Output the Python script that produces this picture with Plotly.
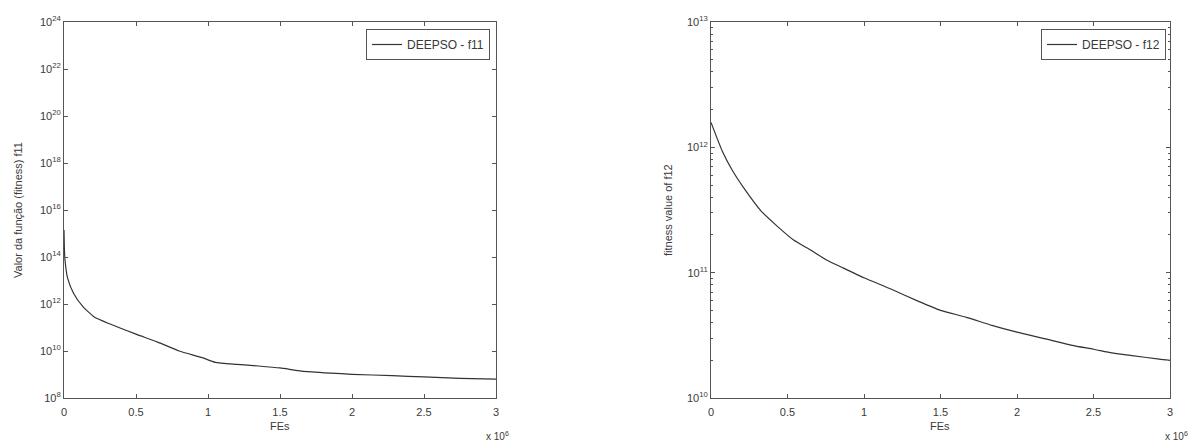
import plotly.graph_objects as go

# ---- data (FEs in units of 10^6) ----
fes_f11 = [0, 0.003, 0.008, 0.025, 0.067, 0.13, 0.21, 0.32, 0.5, 0.65, 0.8, 0.96,
           1.05, 1.2, 1.35, 1.5, 1.65, 1.85, 2.0, 2.28, 2.5, 2.75, 3.0]
fit_f11 = [1.4e15, 2.0e14, 6.3e13, 1.26e13, 2.8e12, 7.9e11, 2.8e11, 1.4e11, 5.2e10,
           2.4e10, 1.0e10, 5.2e9, 3.3e9, 2.7e9, 2.3e9, 1.9e9, 1.4e9, 1.15e9, 1.02e9,
           8.9e8, 7.9e8, 6.9e8, 6.3e8]

fes_f12 = [0, 0.074, 0.138, 0.222, 0.328, 0.434, 0.54, 0.646, 0.752, 0.858, 1.0, 1.176,
           1.357, 1.5, 1.67, 1.836, 2.0, 2.195, 2.36, 2.5, 2.62, 2.74, 2.93, 3.0]
fit_f12 = [1.58e12, 9.3e11, 6.6e11, 4.6e11, 3.1e11, 2.34e11, 1.82e11, 1.53e11, 1.27e11,
           1.10e11, 9.1e10, 7.4e10, 5.9e10, 5.0e10, 4.4e10, 3.8e10, 3.35e10, 2.95e10,
           2.63e10, 2.45e10, 2.29e10, 2.19e10, 2.04e10, 2.0e10]

x_ticks = [0, 0.5, 1, 1.5, 2, 2.5, 3]
x_ticktext = ["0", "0.5", "1", "1.5", "2", "2.5", "3"]
y1_exps = [8, 10, 12, 14, 16, 18, 20, 22, 24]
y2_exps = [10, 11, 12, 13]
y2_minor_mult = [2, 3, 4, 5, 6, 7, 8, 9]

W, H = 1194, 443
FONT = "Liberation Sans, Arial, sans-serif"
TXT = "#3a3a3a"
AX = "#555555"
LINE = "#333333"

def px(x):
    return x / W

def py(y):
    return 1 - y / H

fig = go.Figure()
fig.add_trace(go.Scatter(x=fes_f11, y=fit_f11, mode="lines", name="DEEPSO - f11",
                         line=dict(color=LINE, width=1.2, shape="spline", smoothing=0.5),
                         xaxis="x", yaxis="y", legend="legend"))
fig.add_trace(go.Scatter(x=fes_f12, y=fit_f12, mode="lines", name="DEEPSO - f12",
                         line=dict(color=LINE, width=1.2, shape="spline", smoothing=0.5),
                         xaxis="x2", yaxis="y2", legend="legend2"))

common_axis = dict(showline=True, linecolor=AX, linewidth=1.2, mirror="ticks",
                   ticks="inside", tickcolor=AX, ticklen=4, showgrid=False, zeroline=False,
                   automargin=False,
                   tickfont=dict(family=FONT, size=11, color=TXT))
x_extra = dict(ticklabelstandoff=4)

minor_vals = [m * 10.0 ** e for e in y2_exps[:-1] for m in y2_minor_mult]

ydom = [py(398), py(22)]
fig.update_layout(
    template="none",
    width=W, height=H, margin=dict(l=0, r=0, t=0, b=0, autoexpand=False),
    paper_bgcolor="white", plot_bgcolor="white",
    font=dict(family=FONT, size=11, color=TXT),
    xaxis=dict(domain=[px(64), px(496)], range=[0, 3], tickvals=x_ticks,
               ticktext=x_ticktext, anchor="y", **common_axis, **x_extra),
    yaxis=dict(domain=ydom, type="log", range=[8, 24],
               tickvals=[10.0 ** e for e in y1_exps],
               ticktext=["10<sup>%d</sup>" % e for e in y1_exps],
               anchor="x", **common_axis),
    xaxis2=dict(domain=[px(711), px(1170)], range=[0, 3], tickvals=x_ticks,
                ticktext=x_ticktext, anchor="y2", **common_axis, **x_extra),
    yaxis2=dict(domain=ydom, type="log", range=[10, 13],
                tickvals=[10.0 ** e for e in y2_exps],
                ticktext=["10<sup>%d</sup>" % e for e in y2_exps],
                minor=dict(ticks="inside", ticklen=2, tickcolor=AX, showgrid=False,
                           tickvals=minor_vals),
                anchor="x2", **common_axis),
    legend=dict(x=px(490), y=py(29), xanchor="right", yanchor="top",
                bordercolor=AX, borderwidth=1, bgcolor="white",
                font=dict(family=FONT, size=12, color=TXT),
                tracegroupgap=0, itemwidth=30),
    legend2=dict(x=px(1166), y=py(29), xanchor="right", yanchor="top",
                 bordercolor=AX, borderwidth=1, bgcolor="white",
                 font=dict(family=FONT, size=12, color=TXT),
                 tracegroupgap=0, itemwidth=30),
    showlegend=True,
)

ann_font = dict(family=FONT, size=11, color=TXT)
ann = [
    dict(text="FEs", x=px(280), y=py(426), xanchor="center", yanchor="middle",
         font=ann_font),
    dict(text="FEs", x=px(940), y=py(426), xanchor="center", yanchor="middle",
         font=ann_font),
    dict(text="x 10<sup>6</sup>", x=px(497), y=py(436), xanchor="center",
         yanchor="middle", font=dict(family=FONT, size=10, color=TXT)),
    dict(text="x 10<sup>6</sup>", x=px(1176), y=py(436), xanchor="center",
         yanchor="middle", font=dict(family=FONT, size=10, color=TXT)),
    dict(text="Valor da função (fitness) f11", x=px(18), y=py(210), xanchor="center",
         yanchor="middle", textangle=-90, font=ann_font),
    dict(text="fitness value of f12", x=px(668), y=py(210), xanchor="center",
         yanchor="middle", textangle=-90, font=ann_font),
]
for a in ann:
    a.update(xref="paper", yref="paper", showarrow=False)
fig.update_layout(annotations=ann)

fig.write_html(
    "out.html",
    config={"displayModeBar": False},
    post_script="document.body.style.margin='0';document.body.style.overflow='hidden';",
)
